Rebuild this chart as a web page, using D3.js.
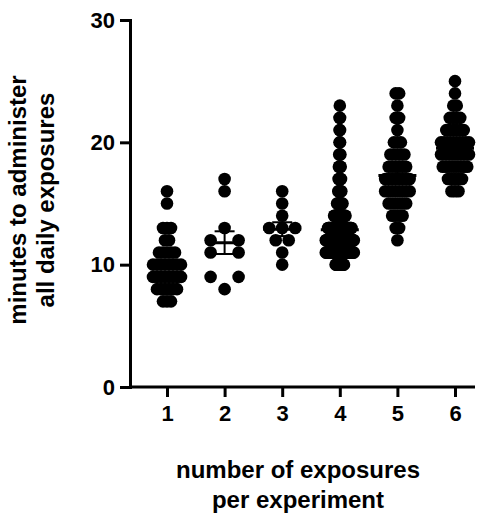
<!DOCTYPE html>
<html>
<head>
<meta charset="utf-8">
<script src="https://cdn.jsdelivr.net/npm/d3@7"></script>
<style>
body { margin: 0; background: #fff; }
text { font-family: 'Liberation Sans', Arial, sans-serif; font-weight: bold; fill: #000; }
</style>
</head>
<body>
<svg id="chart" width="495" height="531"></svg>
<script>
// counts of experiments per minute value, one array per group
var groups = ["1", "2", "3", "4", "5", "6"];
var minutes = [7, 8, 9, 10, 11, 12, 13, 14, 15, 16, 17, 18, 19, 20, 21, 22, 23, 24, 25];
var counts1 = [3, 6, 8, 8, 5, 2, 3, 0, 1, 1, 0, 0, 0, 0, 0, 0, 0, 0, 0];
var counts2 = [0, 1, 2, 0, 2, 2, 1, 0, 0, 1, 1, 0, 0, 0, 0, 0, 0, 0, 0];
var counts3 = [0, 0, 0, 1, 1, 2, 3, 1, 1, 1, 0, 0, 0, 0, 0, 0, 0, 0, 0];
var counts4 = [0, 0, 0, 15, 50, 60, 40, 20, 10, 6, 5, 4, 3, 2, 2, 2, 1, 0, 0];
var counts5 = [0, 0, 0, 0, 0, 1, 2, 4, 6, 8, 8, 6, 5, 3, 1, 2, 1, 2, 0];
var counts6 = [0, 0, 0, 0, 0, 0, 0, 0, 0, 3, 5, 8, 10, 10, 6, 4, 2, 1, 1];
var allCounts = [counts1, counts2, counts3, counts4, counts5, counts6];
var yTicks = [0, 10, 20, 30];
var spacing = [4, 28, 13, 0.6, 3.5, 3.5];

var svg = d3.select('#chart');
var x = d3.scalePoint().domain(groups).range([167, 455]);
var y = d3.scaleLinear().domain([0, 30]).range([387, 20]);

// axes
var ya = svg.append('g').attr('transform', 'translate(130,0)')
  .call(d3.axisLeft(y).tickValues(yTicks).tickSize(10).tickPadding(5));
var xa = svg.append('g').attr('transform', 'translate(0,387)')
  .call(d3.axisBottom(x).tickSize(10).tickPadding(8));
xa.select('.domain').attr('d', 'M130,0H475');
[ya, xa].forEach(function(a){
  a.selectAll('path,line').attr('stroke', '#000').attr('stroke-width', 3);
  a.selectAll('text').style('font-size', '22px').style('font-family', "'Liberation Sans', Arial, sans-serif").style('font-weight', 'bold');
});

// dots
groups.forEach(function(g, gi){
  var vals = [];
  var cx = x(g);
  allCounts[gi].forEach(function(n, i){
    var w = Math.min((n - 1) * spacing[gi], 28);
    for (var k = 0; k < n; k++) {
      var off = n > 1 ? -w / 2 + w * k / (n - 1) : 0;
      vals.push(minutes[i]);
      svg.append('circle').attr('cx', cx + off).attr('cy', y(minutes[i])).attr('r', 6.3).attr('fill', '#000');
    }
  });
  var m = d3.mean(vals), sem = d3.deviation(vals) / Math.sqrt(vals.length);
  svg.append('line').attr('x1', cx - 19).attr('x2', cx + 19).attr('y1', y(m)).attr('y2', y(m))
    .attr('stroke', '#000').attr('stroke-width', 3);
  svg.append('line').attr('x1', cx).attr('x2', cx).attr('y1', y(m - sem)).attr('y2', y(m + sem))
    .attr('stroke', '#000').attr('stroke-width', 2);
  [m - sem, m + sem].forEach(function(v){
    svg.append('line').attr('x1', cx - 10).attr('x2', cx + 10).attr('y1', y(v)).attr('y2', y(v))
      .attr('stroke', '#000').attr('stroke-width', 2);
  });
});

// titles
var yt = svg.append('text').attr('transform', 'translate(0,200) rotate(-90)').attr('text-anchor', 'middle').style('font-size', '24px');
yt.append('tspan').attr('x', 0).attr('y', 26).text('minutes to administer');
yt.append('tspan').attr('x', 0).attr('y', 54).text('all daily exposures');
var xt = svg.append('text').attr('text-anchor', 'middle').style('font-size', '24px');
xt.append('tspan').attr('x', 298).attr('y', 478).text('number of exposures');
xt.append('tspan').attr('x', 298).attr('y', 508).text('per experiment');
</script>
</body>
</html>
